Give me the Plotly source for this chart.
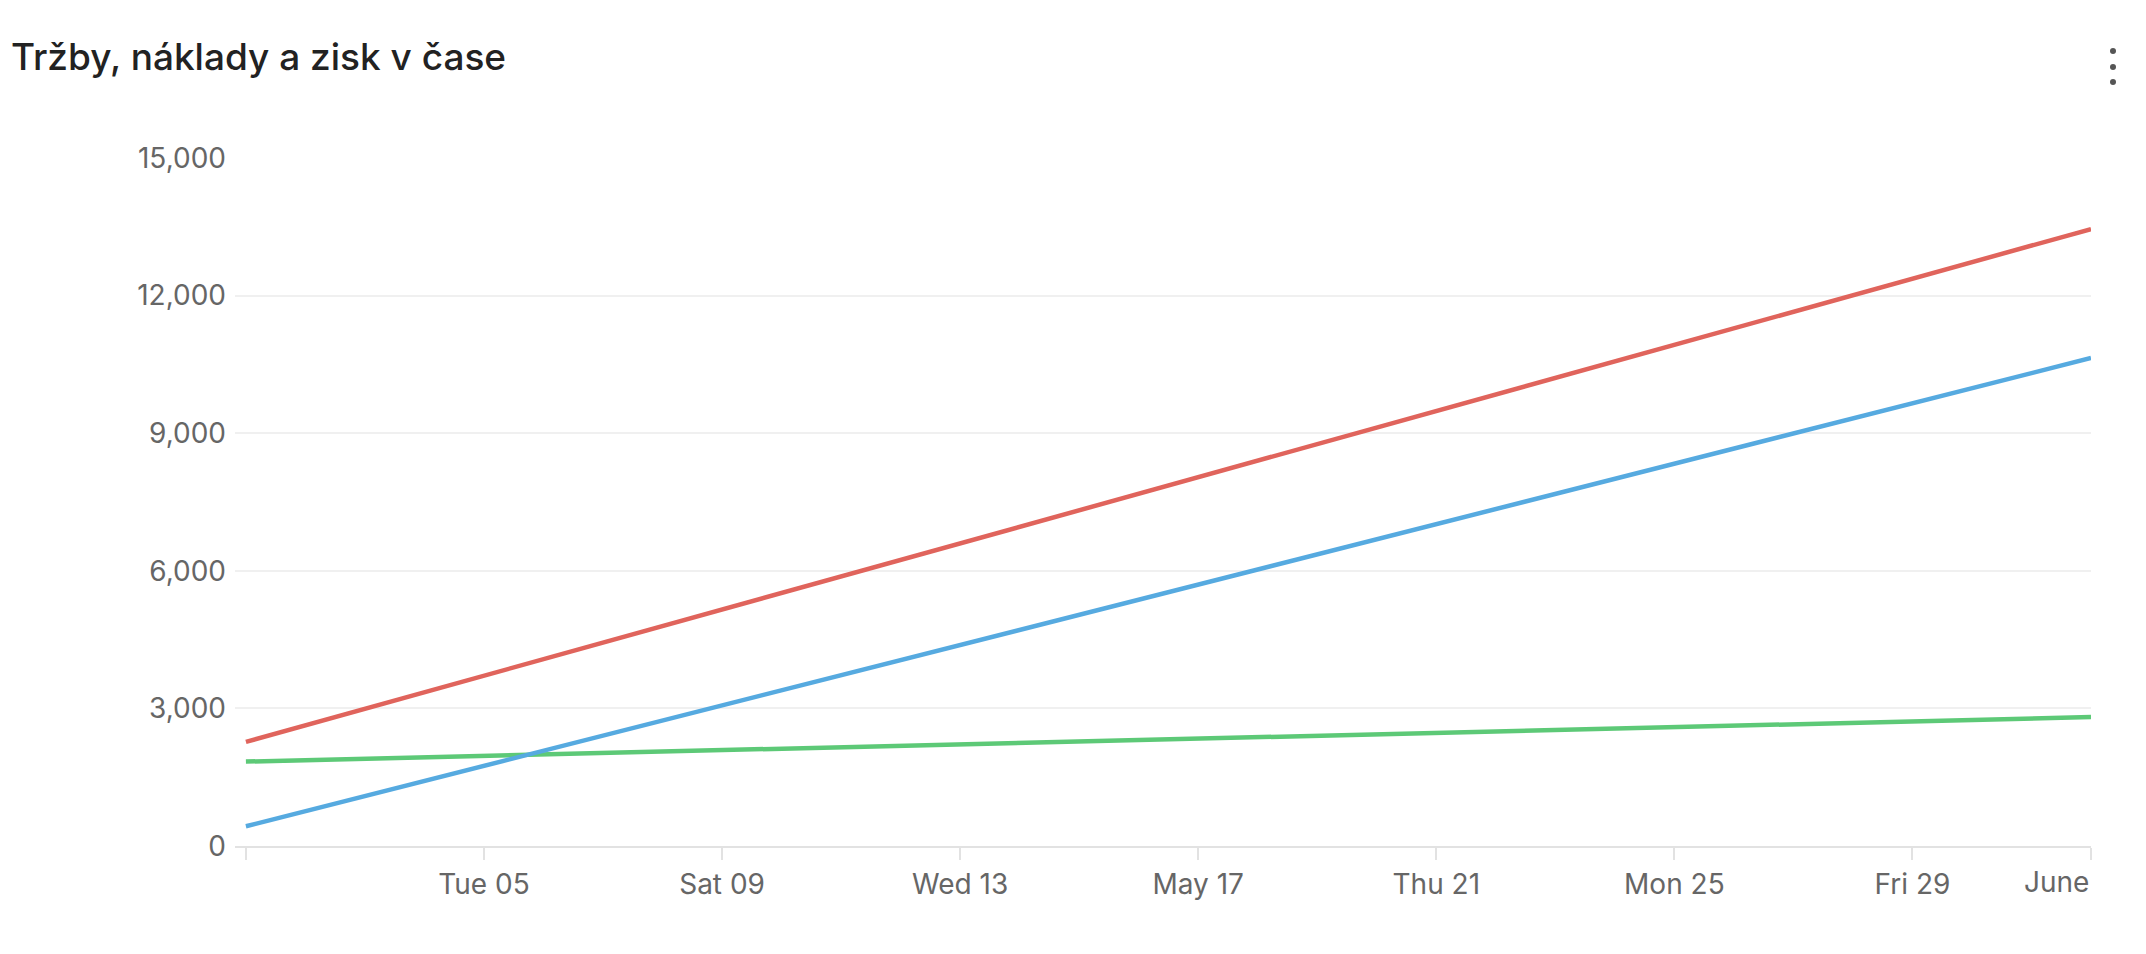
import pandas as pd
import plotly.graph_objects as go

# daily endpoints of the period
dates = ["2020-05-01", "2020-06-01"]
trzby = [2270, 13450]      # revenue
naklady = [430, 10640]     # costs
zisk = [1840, 2810]        # profit

tick_dates = ["2020-05-01", "2020-05-05", "2020-05-09", "2020-05-13", "2020-05-17",
              "2020-05-21", "2020-05-25", "2020-05-29", "2020-06-01"]
tick_labels = ["", "Tue 05", "Sat 09", "Wed 13", "May 17", "Thu 21", "Mon 25", "Fri 29", "June"]
y_ticks = [0, 3000, 6000, 9000, 12000, 15000]

# page has an 8px body margin, so the figure is a bit smaller and shifted
OFF = 8
W, H = 2146 - OFF, 954 - OFF
L, T = 235 - OFF, 158 - OFF
R = W - (2091 - OFF)
B = H - (846 - OFF)

df = pd.DataFrame({"date": pd.to_datetime(dates), "Tržby": trzby,
                   "Náklady": naklady, "Zisk": zisk})

fig = go.Figure()
for col, color in [("Zisk", "#5DC977"), ("Náklady", "#56AAE0"), ("Tržby", "#E0645C")]:
    fig.add_trace(go.Scatter(x=df["date"], y=df[col], name=col, mode="lines",
                             line=dict(color=color, width=4.5)))

# left edge a bit before first tick, like the original
x_start = pd.Timestamp(dates[0]) - pd.Timedelta(hours=4.4)

fig.update_layout(
    width=W, height=H,
    margin=dict(l=L, r=R, t=T, b=B),
    paper_bgcolor="white", plot_bgcolor="white",
    showlegend=False,
    font=dict(family="Inter", size=28, color="#666666"),
    title=dict(text="Tržby, náklady a zisk v čase", x=(11 - OFF) / W, xanchor="left",
               y=1 - (57 - OFF) / H, yanchor="middle", xref="container", yref="container",
               font=dict(family="Inter", size=37, color="#222222", weight=500)),
    xaxis=dict(range=[x_start, pd.Timestamp(dates[-1])], tickmode="array",
               tickvals=tick_dates, ticktext=tick_labels[:-1] + [""], showgrid=False,
               ticks="outside", ticklen=12, tickwidth=2, tickcolor="#E2E2E2",
               showline=True, linecolor="#E2E2E2", linewidth=2, zeroline=False,
               tickfont=dict(size=28)),
    yaxis=dict(range=[0, 15000], tickvals=y_ticks, tickformat=",",
               gridcolor="#F0F0F0", gridwidth=2, zeroline=False,
               showline=False, ticklabelstandoff=8),
)

# last label sits flush with the right edge
fig.add_annotation(x=tick_dates[-1], y=0, xref="x", yref="paper", text=tick_labels[-1],
                   showarrow=False, xanchor="right", yanchor="middle", yshift=-36,
                   font=dict(size=28, color="#666666"))

# the "more" menu dots top right
def px_to_paper(x, y):
    x, y = x - OFF, y - OFF
    return (x - L) / (W - L - R), 1 - (y - T) / (H - T - B)

for yy in [51, 67, 82]:
    x0, y0 = px_to_paper(2110, yy - 3)
    x1, y1 = px_to_paper(2116, yy + 3)
    fig.add_shape(type="circle", xref="paper", yref="paper", x0=x0, y0=y1, x1=x1, y1=y0,
                  fillcolor="#555555", line=dict(width=0))

fig.write_html("out.html")
